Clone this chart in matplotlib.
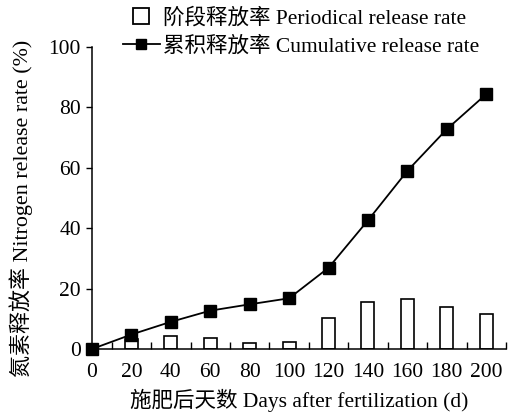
import matplotlib
matplotlib.use("Agg")
import matplotlib.pyplot as plt
from matplotlib.lines import Line2D
import numpy as np

plt.rcParams['font.family'] = ['Liberation Serif', 'Noto Sans CJK SC']

days = [0, 20, 40, 60, 80, 100, 120, 140, 160, 180, 200]
cumulative = [0, 4.8, 9.0, 12.7, 14.8, 16.8, 26.9, 42.6, 59.0, 72.8, 84.4]
bar_days = [20, 40, 60, 80, 100, 120, 140, 160, 180, 200]
periodical = [3.3, 4.4, 3.5, 2.0, 2.2, 10.2, 15.7, 16.4, 13.8, 11.7]
x_labels = [str(d) for d in days]

FS = 15.5

fig = plt.figure(figsize=(5.08, 4.16), dpi=100)
ax = fig.add_axes([0.181, 0.161, 0.815, 0.726])

ax.bar(bar_days, periodical, width=6.6, facecolor='white', edgecolor='black', linewidth=1.2, zorder=2)
ax.plot(days, cumulative, color='black', linewidth=1.3, marker='s', markersize=9,
        markerfacecolor='black', markeredgecolor='black', zorder=3, clip_on=False)

ax.set_xlim(0, 210)
ax.set_ylim(0, 100)
ax.set_yticks([0, 20, 40, 60, 80, 100])
ax.set_xticks(days)
ax.set_xticklabels(x_labels, fontsize=FS)
ax.tick_params(axis='x', length=0, pad=10)
ax.set_xticks(np.arange(10, 211, 20), minor=True)
ax.tick_params(axis='x', which='minor', direction='in', length=5, width=1)
ax.tick_params(axis='y', direction='out', length=4, width=1, labelsize=FS, pad=4)

for s in ['top', 'right']:
    ax.spines[s].set_visible(False)
for s in ['left', 'bottom']:
    ax.spines[s].set_linewidth(1.1)

ax.set_xlabel('施肥后天数 Days after fertilization (d)', fontsize=FS, labelpad=5)
ax.set_ylabel('氮素释放率 Nitrogen release rate (%)', fontsize=15.8)
ax.yaxis.set_label_coords(-0.1425, 0.467)

h_bar = Line2D([], [], linestyle='none', marker='s', markersize=12,
               markerfacecolor='white', markeredgecolor='black', markeredgewidth=1.3)
h_line = Line2D([], [], color='black', linewidth=1.3, marker='s', markersize=6.5,
                markerfacecolor='black')
fig.legend([h_bar, h_line], ['阶段释放率 Periodical release rate', '累积释放率 Cumulative release rate'],
           loc='upper left', bbox_to_anchor=(0.242, 0.98), frameon=False, fontsize=FS,
           handlelength=1.72, handletextpad=0.12, labelspacing=0.34, borderpad=0.0,
           borderaxespad=0)

fig.savefig('out.png', dpi=100)
